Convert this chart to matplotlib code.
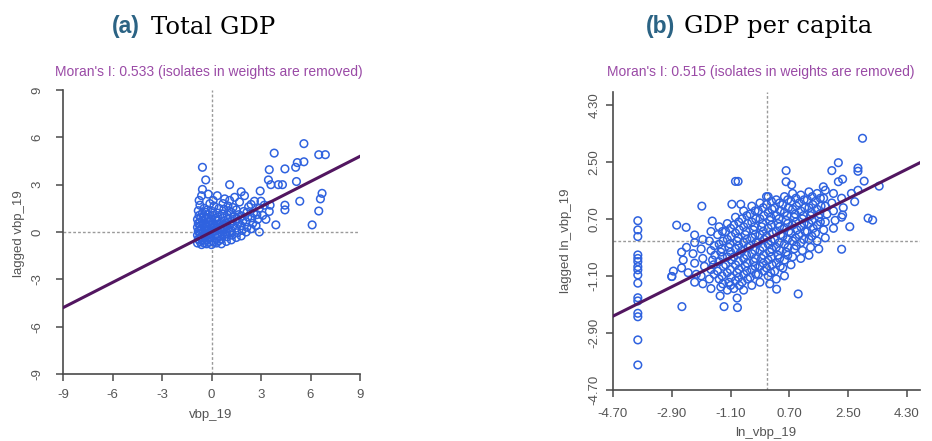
import numpy as np
import matplotlib
matplotlib.use("Agg")
import matplotlib.pyplot as plt

# ---- panel (a): total GDP, standardised vbp_19 vs spatial lag ----
moran_a = 0.533
ticks_a = [-9, -6, -3, 0, 3, 6, 9]

# main cluster (x, lag)
cluster_a = [
    (-0.85, -0.7), (-0.8, -0.45), (-0.85, -0.2), (-0.8, 0.05), (-0.85, 0.3), (-0.8, 0.55),
    (-0.85, 0.8), (-0.75, 1.05), (-0.8, 1.35), (-0.7, 1.7), (-0.75, 2.0), (-0.6, 2.3),
    (-0.6, -0.8), (-0.55, -0.55), (-0.6, -0.3), (-0.5, -0.05), (-0.6, 0.2), (-0.5, 0.45),
    (-0.55, 0.7), (-0.45, 0.95), (-0.55, 1.2), (-0.45, 1.5),
    (-0.3, -0.75), (-0.25, -0.5), (-0.35, -0.2), (-0.25, 0.1), (-0.3, 0.35), (-0.2, 0.6),
    (-0.3, 0.85), (-0.2, 1.1), (-0.25, 1.4), (-0.1, 1.8), (-0.2, 2.4),
    (0.0, -0.8), (0.05, -0.55), (-0.05, -0.3), (0.05, 0.0), (0.0, 0.25), (0.1, 0.5),
    (0.0, 0.8), (0.1, 1.05), (0.05, 1.3), (0.15, 1.65), (0.1, 2.0),
    (0.3, -0.7), (0.3, -0.4), (0.35, -0.15), (0.3, 0.15), (0.4, 0.4), (0.3, 0.7),
    (0.4, 0.95), (0.35, 1.2), (0.45, 1.5), (0.35, 2.3),
    (0.6, -0.75), (0.6, -0.45), (0.65, -0.2), (0.6, 0.1), (0.7, 0.35), (0.6, 0.6),
    (0.7, 0.9), (0.65, 1.15), (0.75, 1.45), (0.7, 1.8), (0.8, 2.1),
    (0.9, -0.6), (0.95, -0.3), (0.9, 0.0), (1.0, 0.25), (0.9, 0.55), (1.0, 0.8),
    (0.95, 1.1), (1.05, 1.35), (1.0, 1.65), (1.1, 2.0),
    (1.2, -0.5), (1.25, -0.2), (1.2, 0.1), (1.3, 0.4), (1.25, 0.7), (1.35, 0.95),
    (1.2, 1.25), (1.3, 1.55), (1.4, 2.2),
    (1.5, -0.35), (1.55, -0.05), (1.5, 0.25), (1.6, 0.55), (1.55, 0.85), (1.65, 1.1),
    (1.5, 1.4), (1.7, 1.9),
    (1.8, -0.25), (1.85, 0.1), (1.8, 0.4), (1.9, 0.7), (1.85, 1.0), (1.95, 1.3),
    (2.1, 0.0), (2.15, 0.3), (2.1, 0.65), (2.2, 0.95), (2.15, 1.25), (2.25, 1.6), (2.0, 2.3),
    (2.4, 0.2), (2.5, 0.55), (2.45, 0.9), (2.55, 1.2), (2.4, 1.75),
    (2.7, 0.4), (2.8, 0.8), (2.75, 1.1), (2.9, 1.5), (2.6, 1.95), (3.1, 1.05),
    (3.2, 1.7), (3.0, 1.95), (3.3, 0.8),
]
# denser core of the cluster
core_a = [
    (-0.7, -0.6), (-0.7, -0.35), (-0.7, -0.1), (-0.7, 0.15), (-0.7, 0.4), (-0.7, 0.65),
    (-0.65, 0.9), (-0.45, -0.7), (-0.4, -0.4), (-0.45, -0.15), (-0.4, 0.2), (-0.4, 0.55),
    (-0.35, 1.25), (-0.15, -0.65), (-0.1, -0.4), (-0.15, -0.1), (-0.1, 0.2), (-0.1, 0.45),
    (-0.05, 0.7), (0.15, -0.65), (0.2, -0.2), (0.2, 0.1), (0.2, 0.4), (0.25, 0.85),
    (0.45, -0.55), (0.5, -0.25), (0.5, 0.25), (0.5, 0.55), (0.8, -0.15), (0.8, 0.2),
    (0.8, 0.45), (1.1, 0.0), (1.1, 0.5),
]
# scattered high-value regions
outliers_a = [
    (5.6, 5.6), (3.8, 5.0), (6.5, 4.9), (6.9, 4.9), (5.6, 4.45), (5.2, 4.4), (5.1, 4.1),
    (4.45, 4.0), (3.5, 3.95), (-0.55, 4.1), (-0.35, 3.3), (3.45, 3.3), (3.6, 3.0),
    (4.05, 3.0), (4.3, 3.0), (5.15, 3.2), (1.1, 3.0), (-0.55, 2.7), (2.95, 2.6),
    (1.8, 2.55), (6.7, 2.45), (6.6, 2.1), (5.35, 1.95), (4.45, 1.7), (4.45, 1.4),
    (6.5, 1.33), (3.55, 1.7), (3.5, 1.3), (3.9, 0.45), (6.1, 0.45), (2.9, 0.0),
]

# ---- panel (b): GDP per capita, ln_vbp_19 vs spatial lag ----
moran_b = 0.515
intercept_b = 0.05
ticks_b = [-4.70, -2.90, -1.10, 0.70, 2.50, 4.30]

cluster_b = [
    (-2.9, -1.12), (-2.85, -0.95),
    (-2.6, -0.85), (-2.55, -0.6), (-2.6, -0.35),
    (-2.45, -0.2), (-2.4, -1.0),
    (-2.2, -0.05), (-2.25, -0.4), (-2.2, -0.7), (-2.15, -1.05), (-2.2, -1.3),
    (-1.95, 0.05), (-2.0, -0.25), (-1.95, -0.55), (-1.9, -0.8), (-2.0, -1.1), (-1.95, -1.35),
    (-1.7, 0.3), (-1.75, 0.0), (-1.7, -0.3), (-1.65, -0.6), (-1.7, -0.9), (-1.75, -1.2),
    (-1.7, -1.5),
    (-1.45, 0.45), (-1.5, 0.2), (-1.45, -0.1), (-1.4, -0.35), (-1.45, -0.65), (-1.5, -0.95),
    (-1.45, -1.2), (-1.4, -1.45),
    (-1.2, 0.55), (-1.25, 0.3), (-1.2, 0.05), (-1.15, -0.2), (-1.2, -0.5), (-1.25, -0.75),
    (-1.2, -1.0), (-1.15, -1.3), (-1.2, -1.55),
    (-0.95, 0.75), (-1.0, 0.5), (-0.95, 0.25), (-0.9, 0.0), (-0.95, -0.25), (-1.0, -0.5),
    (-0.95, -0.75), (-0.9, -1.0), (-0.95, -1.25), (-1.0, -1.5), (-0.9, -1.8),
    (-0.7, 0.95), (-0.75, 0.7), (-0.7, 0.45), (-0.65, 0.2), (-0.7, -0.05), (-0.75, -0.3),
    (-0.7, -0.55), (-0.65, -0.8), (-0.7, -1.05), (-0.75, -1.3), (-0.7, -1.55),
    (-0.45, 1.1), (-0.5, 0.85), (-0.45, 0.6), (-0.4, 0.35), (-0.45, 0.1), (-0.5, -0.15),
    (-0.45, -0.4), (-0.4, -0.65), (-0.45, -0.9), (-0.5, -1.15), (-0.45, -1.4),
    (-0.2, 1.2), (-0.25, 0.95), (-0.2, 0.7), (-0.15, 0.45), (-0.2, 0.2), (-0.25, -0.05),
    (-0.2, -0.3), (-0.15, -0.55), (-0.2, -0.8), (-0.25, -1.05), (-0.2, -1.3),
    (0.05, 1.4), (0.0, 1.15), (0.05, 0.9), (0.1, 0.65), (0.05, 0.4), (0.0, 0.15),
    (0.05, -0.1), (0.1, -0.35), (0.05, -0.6), (0.0, -0.85), (0.05, -1.1), (0.1, -1.35),
    (0.3, 1.3), (0.25, 1.05), (0.3, 0.8), (0.35, 0.55), (0.3, 0.3), (0.25, 0.05),
    (0.3, -0.2), (0.35, -0.45), (0.3, -0.7), (0.25, -0.95), (0.3, -1.2),
    (0.55, 1.4), (0.5, 1.15), (0.55, 0.9), (0.6, 0.65), (0.55, 0.4), (0.5, 0.15),
    (0.55, -0.1), (0.6, -0.35), (0.55, -0.6), (0.5, -0.85), (0.55, -1.1),
    (0.8, 1.5), (0.75, 1.25), (0.8, 1.0), (0.85, 0.75), (0.8, 0.5), (0.75, 0.25),
    (0.8, 0.0), (0.85, -0.25), (0.8, -0.5), (0.75, -0.75),
    (1.05, 1.45), (1.0, 1.2), (1.05, 0.95), (1.1, 0.7), (1.05, 0.45), (1.0, 0.2),
    (1.05, -0.05), (1.1, -0.3), (1.05, -0.55),
    (1.3, 1.55), (1.25, 1.3), (1.3, 1.05), (1.35, 0.8), (1.3, 0.55), (1.25, 0.3),
    (1.3, 0.05), (1.35, -0.2), (1.3, -0.45),
    (1.55, 1.5), (1.5, 1.25), (1.55, 1.0), (1.6, 0.75), (1.55, 0.5), (1.5, 0.25),
    (1.55, 0.0), (1.6, -0.25),
    (1.8, 1.6), (1.75, 1.35), (1.8, 1.1), (1.85, 0.85), (1.8, 0.6), (1.75, 0.35),
    (1.8, 0.1),
    (2.05, 1.5), (2.0, 1.2), (2.05, 0.95), (2.1, 0.65), (2.05, 0.4),
    (2.3, 1.35), (2.35, 1.05), (2.3, 0.75),
]
# extra points filling the dense centre of the cloud
core_b = [
    (-1.6, -0.15), (-1.58, -0.45), (-1.62, -0.75), (-1.6, -1.05),
    (-1.35, 0.3), (-1.33, 0.0), (-1.37, -0.25), (-1.35, -0.5), (-1.32, -0.8),
    (-1.36, -1.1), (-1.34, -1.35),
    (-1.1, 0.4), (-1.08, 0.15), (-1.12, -0.1), (-1.1, -0.35), (-1.07, -0.6),
    (-1.11, -0.9), (-1.09, -1.15), (-1.1, -1.4),
    (-0.85, 0.6), (-0.83, 0.35), (-0.87, 0.1), (-0.85, -0.15), (-0.82, -0.4),
    (-0.86, -0.65), (-0.84, -0.9), (-0.85, -1.15), (-0.83, -1.4),
    (-0.6, 0.8), (-0.58, 0.55), (-0.62, 0.3), (-0.6, 0.05), (-0.57, -0.2),
    (-0.61, -0.45), (-0.59, -0.7), (-0.6, -0.95), (-0.58, -1.2),
    (-0.35, 0.95), (-0.33, 0.7), (-0.37, 0.45), (-0.35, 0.2), (-0.32, -0.05),
    (-0.36, -0.3), (-0.34, -0.55), (-0.35, -0.8), (-0.33, -1.05),
    (-0.1, 1.05), (-0.08, 0.8), (-0.12, 0.55), (-0.1, 0.3), (-0.07, 0.05),
    (-0.11, -0.2), (-0.09, -0.45), (-0.1, -0.7), (-0.08, -0.95),
    (0.15, 1.25), (0.17, 1.0), (0.13, 0.75), (0.15, 0.5), (0.18, 0.25),
    (0.14, 0.0), (0.16, -0.25), (0.15, -0.5), (0.17, -0.75), (0.13, -1.0),
    (0.4, 1.2), (0.42, 0.95), (0.38, 0.7), (0.4, 0.45), (0.43, 0.2),
    (0.39, -0.05), (0.41, -0.3), (0.4, -0.55), (0.42, -0.8),
    (0.65, 1.3), (0.67, 1.05), (0.63, 0.8), (0.65, 0.55), (0.68, 0.3),
    (0.64, 0.05), (0.66, -0.2), (0.65, -0.45),
    (0.9, 1.35), (0.92, 1.1), (0.88, 0.85), (0.9, 0.6), (0.93, 0.35),
    (0.89, 0.1), (0.91, -0.15),
    (1.15, 1.3), (1.17, 1.05), (1.13, 0.8), (1.15, 0.55), (1.18, 0.3), (1.14, 0.05),
    (1.4, 1.4), (1.42, 1.15), (1.38, 0.9), (1.4, 0.65), (1.43, 0.4), (1.39, 0.15),
    (1.65, 1.35), (1.67, 1.1), (1.63, 0.85), (1.65, 0.6),
]
outliers_b = [
    (2.94, 3.24), (2.2, 2.47), (2.0, 2.22), (2.8, 2.3), (2.8, 2.2), (0.6, 2.22),
    (-0.95, 1.88), (-0.87, 1.88), (0.6, 1.87), (0.77, 1.77), (2.33, 1.95), (2.2, 1.87),
    (2.99, 1.89), (3.45, 1.73), (2.8, 1.6), (1.74, 1.71), (2.7, 1.24), (2.6, 1.5),
    (-1.98, 1.1), (-1.06, 1.16), (-0.79, 1.16), (0.0, 1.4),
    (-2.75, 0.5), (-2.46, 0.43), (-1.66, 0.63), (-2.2, 0.19),
    (3.11, 0.72), (3.25, 0.66), (2.33, 0.82), (2.55, 0.45), (2.3, -0.26),
    (-2.59, -2.07), (-1.3, -2.07), (-0.89, -2.1), (0.97, -1.67), (0.31, -1.52),
    (-1.42, -1.73), (-2.9, -1.12),
]
# regions with no neighbours share the same low x value
isolate_x = -3.94
isolate_lag = [0.64, 0.35, 0.14, -0.44, -0.55, -0.65, -0.81, -0.91, -1.07, -1.33,
               -1.79, -1.89, -2.28, -2.39, -3.12, -3.91]

plt.rcParams['font.family'] = ['Liberation Sans', 'DejaVu Sans']

fig = plt.figure(figsize=(9.32, 4.41), dpi=100)
W, H = 932, 441


def px_axes(x0, x1, y0, y1):
    return fig.add_axes([x0 / W, 1 - y1 / H, (x1 - x0) / W, (y1 - y0) / H])


ax_a = px_axes(63, 360, 90, 374)
ax_b = px_axes(613, 920, 92, 390)

pt_color = '#2f62df'
line_color = '#521660'
grey = '#555555'
dot_color = '#9a9a9a'


def style(ax, lim, ticks, labels, ypad, xpad):
    ax.set_xlim(-lim, lim)
    ax.set_ylim(-lim, lim)
    ax.set_xticks(ticks)
    ax.set_yticks(ticks)
    ax.set_xticklabels(labels)
    ax.set_yticklabels(labels, rotation=90, va='center')
    for s in ['top', 'right']:
        ax.spines[s].set_visible(False)
    for s in ['left', 'bottom']:
        ax.spines[s].set_color('#4a4a4a')
        ax.spines[s].set_linewidth(1.2)
    ax.tick_params(axis='both', direction='out', length=5, width=1.1,
                   colors='#4a4a4a', labelcolor=grey, labelsize=9.5)
    ax.tick_params(axis='y', pad=ypad)
    ax.tick_params(axis='x', pad=xpad)
    ax.axhline(0, color=dot_color, lw=1, ls=(0, (2, 1.5)), zorder=1)
    ax.axvline(0, color=dot_color, lw=1, ls=(0, (2, 1.5)), zorder=1)


style(ax_a, 9, ticks_a, [str(t) for t in ticks_a], 9, 6)
style(ax_b, 4.7, ticks_b, ['%.2f' % t for t in ticks_b], 4, 8)

pts_a = cluster_a + core_a + outliers_a
xa = [p[0] for p in pts_a]
ya = [p[1] for p in pts_a]
ax_a.scatter(xa, ya, s=30, facecolors='none', edgecolors=pt_color, linewidths=1.1, zorder=2)
ax_a.axline((0, 0), slope=moran_a, color=line_color, lw=2.2, zorder=3)

pts_b = cluster_b + core_b + outliers_b
xb = [p[0] for p in pts_b] + [isolate_x] * len(isolate_lag)
yb = [p[1] for p in pts_b] + isolate_lag
ax_b.scatter(xb, yb, s=30, facecolors='none', edgecolors=pt_color, linewidths=1.1, zorder=2)
ax_b.axline((0, intercept_b), slope=moran_b, color=line_color, lw=2.2, zorder=3)

# axis labels
fig.text(211 / W, 1 - 415 / H, 'vbp_19', ha='center', va='center', color=grey, fontsize=9.5)
fig.text(19 / W, 1 - 234 / H, 'lagged vbp_19', ha='center', va='center', rotation=90,
         color=grey, fontsize=9.5)
fig.text(766 / W, 1 - 433 / H, 'ln_vbp_19', ha='center', va='center', color=grey, fontsize=9.5)
fig.text(566 / W, 1 - 241 / H, 'lagged ln_vbp_19', ha='center', va='center', rotation=90,
         color=grey, fontsize=9.5)

# Moran's I headers
moran_color = '#9a4aa6'
fig.text(209 / W, 1 - 72 / H, "Moran's I: %.3f (isolates in weights are removed)" % moran_a,
         ha='center', va='center', color=moran_color, fontsize=10)
fig.text(761 / W, 1 - 72 / H, "Moran's I: %.3f (isolates in weights are removed)" % moran_b,
         ha='center', va='center', color=moran_color, fontsize=10)

# panel titles
tag_color = '#2b6384'
fig.text(140 / W, 1 - 27 / H, '(a)', ha='right', va='center', color=tag_color,
         fontsize=16.5, fontweight='bold')
fig.text(151 / W, 1 - 27 / H, 'Total GDP', ha='left', va='center', color='black',
         fontsize=17.5, family='DejaVu Serif')
fig.text(675 / W, 1 - 27 / H, '(b)', ha='right', va='center', color=tag_color,
         fontsize=16.5, fontweight='bold')
fig.text(684 / W, 1 - 27 / H, 'GDP per capita', ha='left', va='center', color='black',
         fontsize=17.5, family='DejaVu Serif')

fig.savefig('out.png', dpi=100)
